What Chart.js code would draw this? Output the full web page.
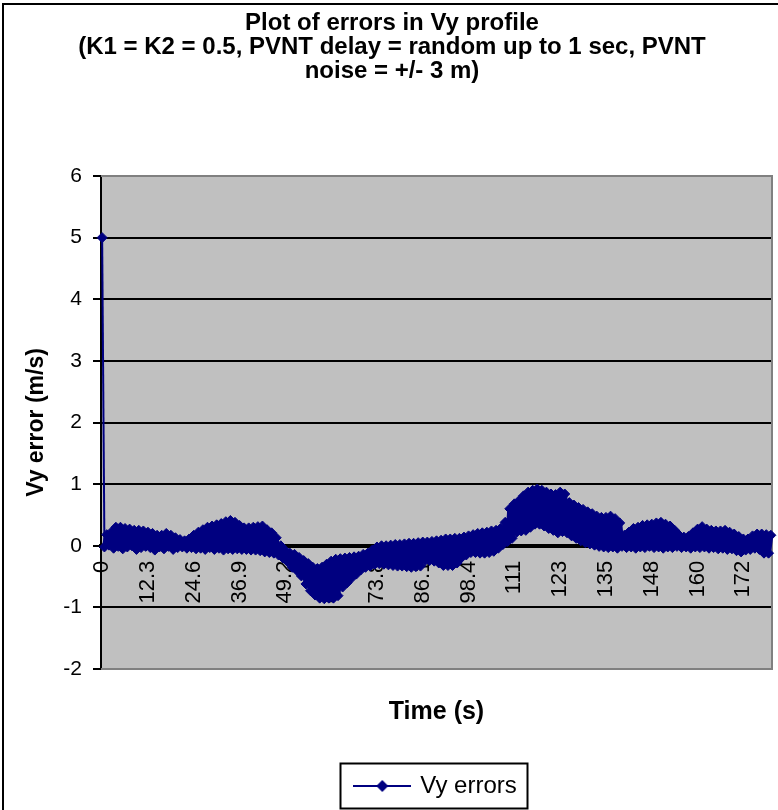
<!DOCTYPE html>
<html>
<head>
<meta charset="utf-8">
<script src="https://cdn.jsdelivr.net/npm/chart.js@4/dist/chart.umd.min.js"></script>
<style>
  html, body { margin: 0; padding: 0; background: #fff; }
</style>
</head>
<body>
<canvas id="chart" width="778" height="810"></canvas>
<script>
// Vy error samples (m/s), one every 0.615 s
const vyErrors = [
  // 0 - 12.3 s
  5.0, -0.02, 0.18, 0.01, 0.22, -0.04, 0.30, -0.01, 0.30, -0.05, 0.28, -0.02, 0.27, 0.00, 0.25, -0.06, 0.25, -0.03, 0.24, -0.01,
  // 12.3 - 24.6
  0.22, -0.03, 0.20, -0.07, 0.17, -0.02, 0.17, -0.05, 0.20, -0.01, 0.17, -0.06, 0.13, -0.03, 0.10, -0.02, 0.08, -0.04, 0.11, -0.03,
  // 24.6 - 36.9
  0.17, -0.05, 0.22, -0.04, 0.26, -0.06, 0.30, -0.03, 0.32, -0.06, 0.34, -0.04, 0.36, -0.07, 0.39, -0.05, 0.41, -0.06, 0.38, -0.05,
  // 36.9 - 49.2
  0.33, -0.06, 0.29, -0.06, 0.29, -0.07, 0.30, -0.07, 0.31, -0.08, 0.32, -0.10, 0.26, -0.11, 0.21, -0.12, 0.13, -0.15, 0.00, -0.20,
  // 49.2 - 61.5
  -0.08, -0.26, -0.12, -0.35, -0.14, -0.40, -0.19, -0.49, -0.24, -0.62, -0.29, -0.73, -0.35, -0.80, -0.37, -0.85, -0.35, -0.86, -0.30, -0.85,
  // 61.5 - 73.8
  -0.25, -0.85, -0.22, -0.81, -0.21, -0.67, -0.20, -0.60, -0.19, -0.52, -0.18, -0.46, -0.17, -0.39, -0.14, -0.35, -0.12, -0.33, -0.07, -0.30,
  // 73.8 - 86.1
  -0.02, -0.29, 0.00, -0.30, 0.00, -0.31, 0.01, -0.32, 0.02, -0.33, 0.02, -0.33, 0.03, -0.34, 0.04, -0.35, 0.04, -0.34, 0.05, -0.33,
  // 86.1 - 98.4
  0.06, -0.24, 0.06, -0.24, 0.07, -0.25, 0.08, -0.28, 0.09, -0.32, 0.11, -0.32, 0.11, -0.32, 0.12, -0.28, 0.12, -0.19, 0.14, -0.15,
  // 98.4 - 110.7
  0.16, -0.11, 0.18, -0.11, 0.20, -0.12, 0.21, -0.12, 0.22, -0.11, 0.24, -0.09, 0.25, -0.04, 0.28, 0.02, 0.38, 0.07, 0.60, 0.12,
  // 110.7 - 123
  0.68, 0.22, 0.73, 0.24, 0.81, 0.25, 0.87, 0.30, 0.90, 0.35, 0.92, 0.35, 0.90, 0.32, 0.87, 0.28, 0.84, 0.25, 0.83, 0.21,
  // 123 - 135.3
  0.87, 0.23, 0.84, 0.21, 0.70, 0.16, 0.66, 0.12, 0.62, 0.08, 0.59, 0.05, 0.55, 0.03, 0.52, 0.01, 0.48, -0.01, 0.46, -0.02,
  // 135.3 - 147.6
  0.46, -0.03, 0.48, -0.02, 0.44, -0.04, 0.37, -0.01, 0.17, -0.03, 0.22, -0.02, 0.28, -0.04, 0.30, -0.02, 0.33, -0.03, 0.34, -0.01,
  // 147.6 - 159.9
  0.35, -0.03, 0.37, -0.02, 0.38, -0.04, 0.35, -0.02, 0.32, -0.03, 0.25, -0.01, 0.17, -0.03, 0.14, -0.02, 0.15, -0.04, 0.21, -0.02,
  // 159.9 - 172.2
  0.27, -0.03, 0.31, -0.02, 0.27, -0.04, 0.25, -0.03, 0.24, -0.05, 0.24, -0.04, 0.25, -0.06, 0.22, -0.05, 0.19, -0.08, 0.15, -0.10,
  // 172.2 - end
  0.11, -0.07, 0.11, -0.06, 0.16, -0.04, 0.19, -0.06, 0.19, -0.12, 0.18, -0.12, 0.17
];

const sampleStep = 0.615;   // seconds between samples
const labelEvery = 20;      // one axis label every 12.3 s
const xTickLabels = ['0', '12.3', '24.6', '36.9', '49.2', '61.5', '73.8', '86.1', '98.4', '111', '123', '135', '148', '160', '172'];
const yTicks = { min: -2, max: 6, step: 1 };

const times = vyErrors.map((_, i) => (i * sampleStep).toFixed(3));

const FONT = "'Liberation Sans', Arial, sans-serif";
const NAVY = '#000080';

// legend sample: line with a diamond in the middle (Excel style)
const legendMark = document.createElement('canvas');
legendMark.width = 58;
legendMark.height = 14;
(function () {
    const c = legendMark.getContext('2d');
    c.strokeStyle = NAVY;
    c.lineWidth = 2;
    c.beginPath();
    c.moveTo(0, 7);
    c.lineTo(58, 7);
    c.stroke();
    c.fillStyle = NAVY;
    c.beginPath();
    c.moveTo(29, 1);
    c.lineTo(35, 7);
    c.lineTo(29, 13);
    c.lineTo(23, 7);
    c.closePath();
    c.fill();
})();

const excelFrame = {
    id: 'excelFrame',
    beforeDraw(chart) {
        const { ctx, chartArea: a } = chart;
        ctx.save();
        ctx.fillStyle = '#fff';
        ctx.fillRect(0, 0, chart.width, chart.height);
        // outer chart border (left and top visible)
        ctx.fillStyle = '#000';
        ctx.fillRect(2, 3, chart.width, 2);
        ctx.fillRect(2, 3, 2, chart.height);
        // plot area
        ctx.fillStyle = '#c0c0c0';
        ctx.fillRect(a.left, a.top, a.right - a.left, a.bottom - a.top);
        ctx.restore();
    },
    beforeDatasetsDraw(chart) {
        const { ctx, chartArea: a } = chart;
        ctx.save();
        ctx.strokeStyle = '#808080';
        ctx.lineWidth = 2;
        ctx.beginPath();
        ctx.moveTo(a.left, a.top);
        ctx.lineTo(a.right, a.top);
        ctx.lineTo(a.right, a.bottom);
        ctx.lineTo(a.left, a.bottom);
        ctx.stroke();
        ctx.restore();
    },
    afterDraw(chart) {
        const hb = chart.legend && chart.legend.legendHitBoxes[0];
        if (!hb) return;
        const ctx = chart.ctx;
        ctx.save();
        ctx.strokeStyle = '#000';
        ctx.lineWidth = 2;
        const l = Math.round(hb.left - 16), t = Math.round(hb.top - 11);
        ctx.strokeRect(l + 0.5, t + 0.5, Math.round(hb.width + 27), Math.round(hb.height + 21));
        ctx.restore();
    }
};

new Chart(document.getElementById('chart'), {
    type: 'line',
    data: {
        labels: times,
        datasets: [{
            label: 'Vy errors',
            data: vyErrors,
            borderColor: NAVY,
            backgroundColor: NAVY,
            borderWidth: 5,
            borderJoinStyle: 'round',
            segment: {
                // the drop from the first sample is a thin line
                borderWidth: ctx => ctx.p0DataIndex === 0 ? 2 : 5
            },
            pointStyle: 'rectRot',
            pointRadius: 5,
            pointBorderWidth: 1,
            pointBackgroundColor: NAVY,
            pointBorderColor: NAVY,
            tension: 0,
            clip: false
        }]
    },
    options: {
        responsive: false,
        animation: false,
        layout: { padding: { left: 11, right: 5, top: 0, bottom: 2 } },
        plugins: {
            title: {
                display: true,
                text: [
                    'Plot of errors in Vy profile',
                    '(K1 = K2 = 0.5, PVNT delay = random up to 1 sec, PVNT',
                    'noise = +/- 3 m)'
                ],
                color: '#000',
                font: { family: FONT, size: 24, weight: 'bold', lineHeight: 1.0 },
                padding: { top: 11, bottom: 93 }
            },
            legend: {
                position: 'bottom',
                fullSize: false,
                labels: {
                    color: '#000',
                    font: { family: FONT, size: 24 },
                    padding: 10,
                    usePointStyle: true,
                    pointStyleWidth: 52,
                    generateLabels(chart) {
                        const items = Chart.defaults.plugins.legend.labels.generateLabels(chart);
                        items.forEach(it => { it.pointStyle = legendMark; });
                        return items;
                    }
                }
            },
            tooltip: { enabled: false }
        },
        scales: {
            x: {
                type: 'category',
                position: { y: 0 },
                offset: true,
                afterFit(scale) {
                    // axis sits on y = 0 and needs no layout room of its own
                    scale.height = 0;
                    scale.paddingLeft = 0;
                    scale.paddingRight = 0;
                },
                grid: { display: false, drawTicks: false },
                border: { display: true, color: '#000', width: 4 },
                ticks: {
                    autoSkip: false,
                    minRotation: 90,
                    maxRotation: 90,
                    padding: 15,
                    color: '#000',
                    font: { family: FONT, size: 22 },
                    callback(value, index) {
                        return index % labelEvery === 0 ? xTickLabels[index / labelEvery] : null;
                    }
                }
            },
            xTitle: {
                type: 'category',
                axis: 'x',
                position: 'bottom',
                offset: true,
                afterFit(scale) {
                    scale.height = 95;
                    scale.paddingLeft = 0;
                    scale.paddingRight = 0;
                },
                grid: { display: false, drawTicks: false },
                border: { display: false },
                ticks: { display: false },
                title: {
                    display: true,
                    text: 'Time (s)',
                    color: '#000',
                    font: { family: FONT, size: 25, weight: 'bold', lineHeight: 1.0 },
                    padding: { top: 0, bottom: 39 }
                }
            },
            y: {
                min: yTicks.min,
                max: yTicks.max,
                afterFit(scale) { scale.width = 90; },
                ticks: {
                    stepSize: yTicks.step,
                    color: '#000',
                    padding: 11,
                    font: { family: FONT, size: 21 }
                },
                grid: {
                    color: ctx => (ctx.tick && (ctx.tick.value === yTicks.max || ctx.tick.value === yTicks.min)) ? '#808080' : '#000',
                    lineWidth: 2,
                    tickLength: 8,
                    tickColor: '#000',
                    tickWidth: 2
                },
                border: { color: '#000', width: 2 },
                title: {
                    display: true,
                    text: 'Vy error (m/s)',
                    color: '#000',
                    font: { family: FONT, size: 23, weight: 'bold', lineHeight: 1.0 },
                    padding: { top: 14, bottom: 0 }
                }
            }
        }
    },
    plugins: [excelFrame]
});
</script>
</body>
</html>
